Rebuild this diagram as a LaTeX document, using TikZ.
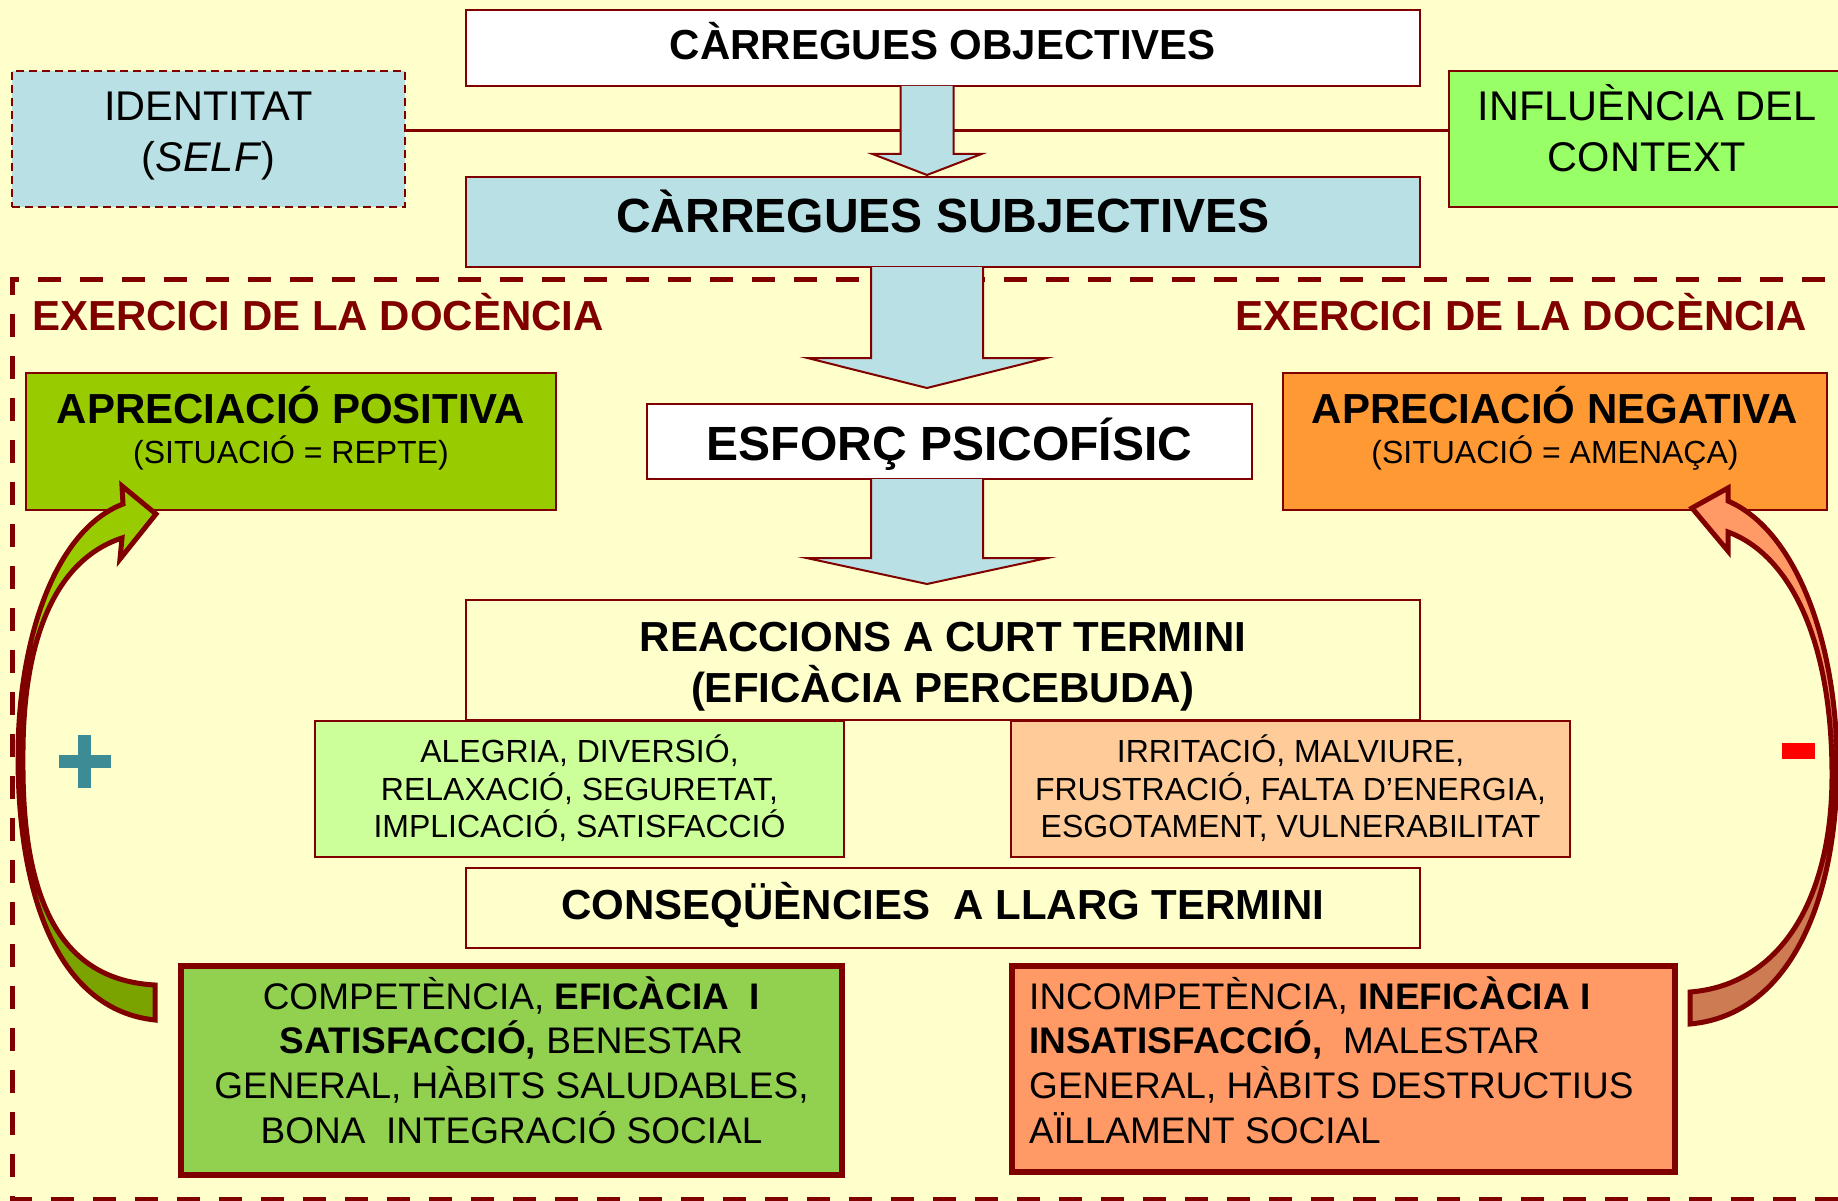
\documentclass[tikz,border=0pt]{standalone}
\usepackage{fontspec}
\setmainfont{Liberation Sans}
\usetikzlibrary{calc}
\definecolor{bgc}{HTML}{FFFFCC}
\definecolor{maroon}{HTML}{800000}
\definecolor{bluec}{HTML}{B9E0E4}
\definecolor{inflc}{HTML}{99FF66}
\definecolor{posc}{HTML}{99CC00}
\definecolor{negc}{HTML}{FF9933}
\definecolor{alegc}{HTML}{CCFF99}
\definecolor{irric}{HTML}{FFCC99}
\definecolor{compc}{HTML}{92D050}
\definecolor{incompc}{HTML}{FF9966}
\definecolor{plusc}{HTML}{3D8B95}
\definecolor{larrowtop}{HTML}{99CC00}
\definecolor{larrowbot}{HTML}{7AA300}
\definecolor{rarrowtop}{HTML}{FF9966}
\definecolor{rarrowbot}{HTML}{CD7B52}
\tikzset{
  box/.style={draw=maroon, line width=2pt, inner sep=0pt, outer sep=0pt},
  thickbox/.style={draw=maroon, line width=6pt, inner sep=0pt, outer sep=0pt},
  framedash/.style={draw=maroon, line width=5pt, dash pattern=on 23pt off 19pt},
  conn/.style={draw=maroon, line width=3pt},
  barrow/.style={fill=bluec, draw=maroon, line width=2pt, line join=miter},
  carrow/.style={draw=maroon, line width=5pt, line join=miter},
  tB/.style={font=\fontsize{42}{50}\selectfont\bfseries, inner sep=0pt, anchor=base},
  tBB/.style={font=\fontsize{48}{56}\selectfont\bfseries, inner sep=0pt, anchor=base},
  tR/.style={font=\fontsize{41.5}{50}\selectfont, inner sep=0pt, anchor=base},
  tS/.style={font=\fontsize{32}{38}\selectfont, inner sep=0pt, anchor=base},
  tM/.style={font=\fontsize{37}{44}\selectfont, inner sep=0pt, anchor=base},
}
\newcommand\LArrowPath{(156,514) -- (120,559) -- (122,538) .. controls (55,560) and (22,640) .. (23,760) .. controls (22,900) and (60,980) .. (155,985) -- (155,1020) .. controls (60,1010) and (18,900) .. (18,756) .. controls (18,640) and (55,530) .. (123,504) -- (122,486) -- cycle}
\newcommand\RArrowPath{(1692,508) -- (1728,488) -- (1728,501) .. controls (1795,530) and (1837,640) .. (1837,766) .. controls (1837,900) and (1790,1015) .. (1690,1024) -- (1690,992) .. controls (1780,985) and (1832,900) .. (1832,775) .. controls (1832,640) and (1790,555) .. (1728,532) -- (1728,551) -- cycle}
\begin{document}
\begin{tikzpicture}[x=1pt,y=-1pt]
\useasboundingbox (0,0) rectangle (1838,1201);
\clip (0,0) rectangle (1838,1201);
\fill[bgc] (0,0) rectangle (1838,1201);
% dashed frame
\draw[framedash] (1880,1199) -- (12,1199) -- (12,279) -- (1880,279);
% top boxes
\node[box, fill=white, minimum width=954pt, minimum height=76pt] (obj) at (943,48) {};
\node[box, dashed, dash pattern=on 8pt off 5pt, fill=bluec, minimum width=393pt, minimum height=136pt] (ident) at (208.5,139) {};
\node[box, fill=inflc, minimum width=396pt, minimum height=136pt] (infl) at (1647,139) {};
\draw[conn] ([yshift=8pt]ident.east) -- ([yshift=8pt]infl.west);
\node[box, fill=bluec, minimum width=954pt, minimum height=90pt] (subj) at (943,222) {};
\node[box, fill=white, minimum width=605pt, minimum height=75pt] (esf) at (949.5,441.5) {};
\node[box, fill=posc, minimum width=530pt, minimum height=137pt] (pos) at (291,441.5) {};
\node[box, fill=negc, minimum width=544pt, minimum height=137pt] (neg) at (1555,441.5) {};
\node[box, fill=bgc, minimum width=954pt, minimum height=120pt] (reac) at (943,660) {};
\node[box, fill=alegc, minimum width=529pt, minimum height=136pt] (aleg) at (579.5,789) {};
\node[box, fill=irric, minimum width=559pt, minimum height=136pt] (irri) at (1290.5,789) {};
\node[box, fill=bgc, minimum width=954pt, minimum height=80pt] (cons) at (943,908) {};
\node[thickbox, fill=compc, minimum width=661pt, minimum height=209pt] (comp) at (511.5,1070.5) {};
\node[thickbox, fill=incompc, minimum width=663pt, minimum height=206pt] (incomp) at (1343.5,1069) {};
% block arrows
\coordinate (ax) at (927,0);
\coordinate (a1) at (obj.south -| ax);
\path[barrow] ($(a1)+(-26.5,0)$) -- ($(a1)+(-26.5,68)$) -- ($(a1)+(-54.5,68)$) -- ($(a1)+(0,89)$) -- ($(a1)+(54.5,68)$) -- ($(a1)+(26.5,68)$) -- ($(a1)+(26.5,0)$);
\coordinate (a2) at (subj.south -| ax);
\path[barrow] ($(a2)+(-56,0)$) -- ($(a2)+(-56,91)$) -- ($(a2)+(-119.5,91)$) -- ($(a2)+(0,121)$) -- ($(a2)+(119.5,91)$) -- ($(a2)+(56,91)$) -- ($(a2)+(56,0)$);
\coordinate (a3) at (esf.south -| ax);
\path[barrow] ($(a3)+(-56,0)$) -- ($(a3)+(-56,79)$) -- ($(a3)+(-120.5,79)$) -- ($(a3)+(0,105)$) -- ($(a3)+(120.5,79)$) -- ($(a3)+(56,79)$) -- ($(a3)+(56,0)$);
% curved arrows
\begin{scope}
  \clip (0,0) rectangle (300,760);
  \fill[larrowtop] \LArrowPath;
\end{scope}
\begin{scope}
  \clip (0,760) rectangle (300,1100);
  \fill[larrowbot] \LArrowPath;
\end{scope}
\draw[carrow] \LArrowPath;
\begin{scope}
  \clip (1600,0) rectangle (1900,766);
  \fill[rarrowtop] \RArrowPath;
\end{scope}
\begin{scope}
  \clip (1600,766) rectangle (1900,1100);
  \fill[rarrowbot] \RArrowPath;
\end{scope}
\draw[carrow] \RArrowPath;
% plus and minus
\fill[plusc] (59,755) rectangle (111,768);
\fill[plusc] (78,735) rectangle (91,788);
\fill[red] (1782,743) rectangle (1815,759);
% texts
\node[tB] (tobj) at (943,60) {CÀRREGUES OBJECTIVES};
\node[tR] (tid1) at (208.5,121) {IDENTITAT};
\node[tR] (tid2) at (208.5,172) {(\textit{SELF})};
\node[tR] (tin1) at (1647,121) {INFLUÈNCIA DEL};
\node[tR] (tin2) at (1647,172) {CONTEXT};
\node[tBB] (tsubj) at (943,233) {CÀRREGUES SUBJECTIVES};
\node[tB, text=maroon, anchor=base west] (tex1) at (32,330) {EXERCICI DE LA DOCÈNCIA};
\node[tB, text=maroon, anchor=base west] (tex2) at (1235,330) {EXERCICI DE LA DOCÈNCIA};
\node[tB] (tpos1) at (291,423) {APRECIACIÓ POSITIVA};
\node[tS] (tpos2) at (291,463) {(SITUACIÓ = REPTE)};
\node[tB] (tneg1) at (1555,423) {APRECIACIÓ NEGATIVA};
\node[tS] (tneg2) at (1555,463) {(SITUACIÓ = AMENAÇA)};
\node[tBB] (tesf) at (949.5,460) {ESFORÇ PSICOFÍSIC};
\node[tB] (treac1) at (943,651) {REACCIONS A CURT TERMINI};
\node[tB] (treac2) at (943,702) {(EFICÀCIA PERCEBUDA)};
\node[tS] (tal1) at (579.5,762) {ALEGRIA, DIVERSIÓ,};
\node[tS] (tal2) at (579.5,800) {RELAXACIÓ, SEGURETAT,};
\node[tS] (tal3) at (579.5,837) {IMPLICACIÓ, SATISFACCIÓ};
\node[tS] (tir1) at (1290.5,762) {IRRITACIÓ, MALVIURE,};
\node[tS] (tir2) at (1290.5,800) {FRUSTRACIÓ, FALTA D’ENERGIA,};
\node[tS] (tir3) at (1290.5,837) {ESGOTAMENT, VULNERABILITAT};
\node[tB] (tcons) at (943,919) {CONSEQÜÈNCIES\ \ A LLARG TERMINI};
\node[tM] (tc1) at (511.5,1009) {COMPETÈNCIA, \textbf{EFICÀCIA\ \ I}};
\node[tM] (tc2) at (511.5,1053) {\textbf{SATISFACCIÓ,} BENESTAR};
\node[tM] (tc3) at (511.5,1098) {GENERAL, HÀBITS SALUDABLES,};
\node[tM] (tc4) at (511.5,1143) {BONA\ \ INTEGRACIÓ SOCIAL};
\node[tM, anchor=base west] (ti1) at (1029,1009) {INCOMPETÈNCIA, \textbf{INEFICÀCIA I}};
\node[tM, anchor=base west] (ti2) at (1029,1053) {\textbf{INSATISFACCIÓ,}\ \ MALESTAR};
\node[tM, anchor=base west] (ti3) at (1029,1098) {GENERAL, HÀBITS DESTRUCTIUS};
\node[tM, anchor=base west] (ti4) at (1029,1143) {AÏLLAMENT SOCIAL};
\end{tikzpicture}
\end{document}
